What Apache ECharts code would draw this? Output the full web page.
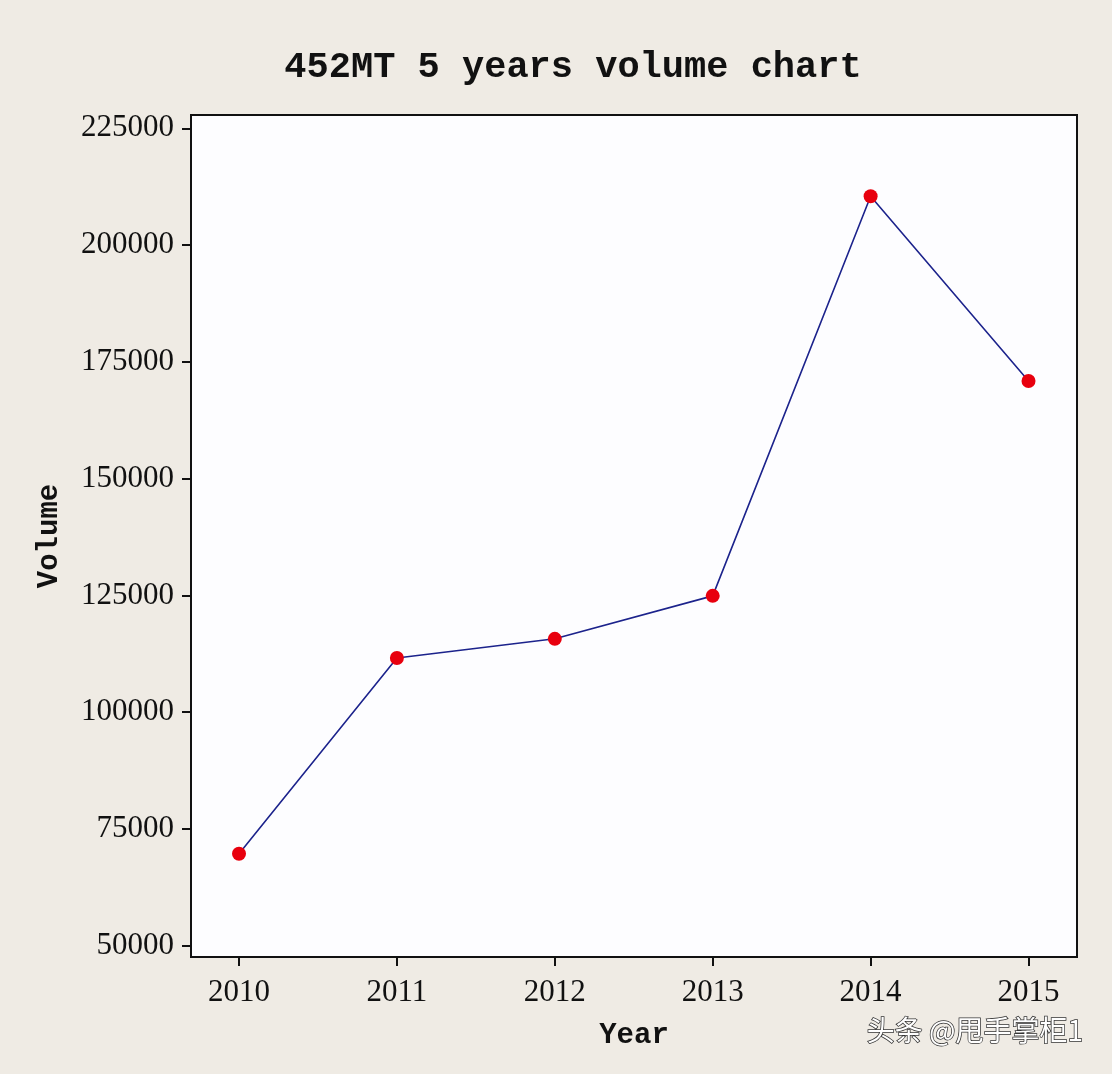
<!DOCTYPE html>
<html>
<head>
<meta charset="utf-8">
<script src="https://cdn.jsdelivr.net/npm/echarts@6/dist/echarts.min.js"></script>
<style>html,body{margin:0;padding:0;background:#efebe4;}#c{width:1112px;height:1074px;}</style>
</head>
<body>
<div id="c"></div>
<script>
const years = [2010, 2011, 2012, 2013, 2014, 2015];
const volumes = [69700, 111600, 115700, 124900, 210450, 170900];
const yTicks = [50000, 75000, 100000, 125000, 150000, 175000, 200000, 225000];
const titleText = '452MT 5 years volume chart';
const xName = 'Year';
const yName = 'Volume';
const watermark = '头条 @甩手掌柜1';

const chart = echarts.init(document.getElementById('c'));
const monoBold = '"Courier New","Liberation Mono",monospace';
const tickFont = '"Liberation Serif","Times New Roman",serif';
chart.setOption({
  backgroundColor: '#efebe4',
  animation: false,
  title: {
    text: titleText,
    left: 568, top: 44, textAlign: 'center',
    textStyle: { fontFamily: monoBold, fontWeight: 'bold', fontSize: 37, color: '#111' }
  },
  grid: {
    left: 191, top: 115, right: 35, bottom: 117,
    show: true, backgroundColor: '#fdfdff', borderColor: '#111', borderWidth: 2
  },
  xAxis: {
    type: 'value', min: 2009.696, max: 2015.307,
    name: xName, nameLocation: 'middle', nameGap: 64,
    nameTextStyle: { fontFamily: monoBold, fontWeight: 'bold', fontSize: 29, color: '#111' },
    axisLine: { show: true, lineStyle: { color: '#111', width: 2 } },
    axisTick: { show: true, length: 9, customValues: years, lineStyle: { color: '#111', width: 2 } },
    axisLabel: { customValues: years, margin: 20, fontFamily: tickFont, fontSize: 31, color: '#111', formatter: v => String(v) },
    splitLine: { show: false }
  },
  yAxis: {
    type: 'value', min: 47583, max: 227845,
    name: yName, nameLocation: 'middle', nameGap: 127, nameRotate: 90,
    nameTextStyle: { fontFamily: monoBold, fontWeight: 'bold', fontSize: 29, color: '#111' },
    axisLine: { show: true, lineStyle: { color: '#111', width: 2 } },
    axisTick: { show: true, length: 9, customValues: yTicks, lineStyle: { color: '#111', width: 2 } },
    axisLabel: { customValues: yTicks, margin: 17, fontFamily: tickFont, fontSize: 31, color: '#111', formatter: v => String(v) },
    splitLine: { show: false }
  },
  series: [{
    type: 'line',
    data: years.map((y, i) => [y, volumes[i]]),
    lineStyle: { color: '#1c238c', width: 1.6 },
    symbol: 'circle', symbolSize: 14,
    itemStyle: { color: '#e8000e', borderWidth: 0 },
    z: 3
  }],
  graphic: [{
    type: 'text', left: 866, top: 1016,
    style: {
      text: watermark, fontSize: 28, fontFamily: '"Noto Sans CJK SC",sans-serif',
      fill: '#ffffff', stroke: '#333', lineWidth: 1.5
    }
  }]
});
</script>
</body>
</html>
